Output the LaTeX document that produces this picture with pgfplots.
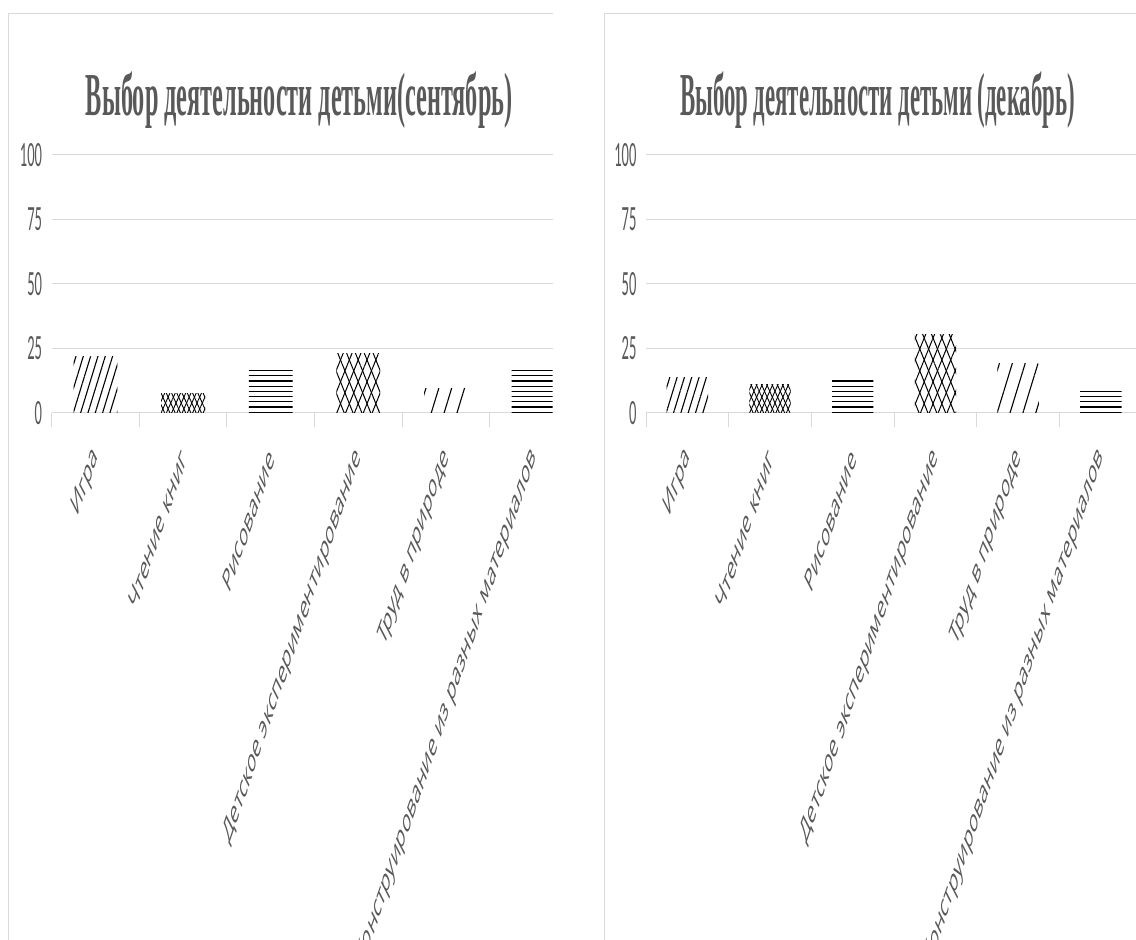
\documentclass[border=0pt]{standalone}
\usepackage{pgfplots}
\pgfplotsset{compat=1.18}
\usetikzlibrary{patterns,patterns.meta}
\usepackage{fontspec}
\setmainfont{Liberation Serif}
\newfontfamily\titlefont{Liberation Serif}
\newfontfamily\tickfont[FakeStretch=0.41]{Carlito}
\newfontfamily\labelfont{Open Sans}
\definecolor{txt}{HTML}{595959}
\definecolor{gridc}{HTML}{D9D9D9}

% horizontal hatching with a wide tile, so the lines stay unbroken
\pgfdeclarepatternformonly{hlines}{\pgfqpoint{-1pt}{-1pt}}{\pgfqpoint{201pt}{6.2pt}}{\pgfqpoint{200pt}{5.2pt}}{
  \pgfsetlinewidth{1.1pt}
  \pgfpathmoveto{\pgfqpoint{-1pt}{2.6pt}}
  \pgfpathlineto{\pgfqpoint{201pt}{2.6pt}}
  \pgfusepath{stroke}
}

\tikzset{
  pStripe/.style={pattern={Lines[angle=73,distance=7pt,line width=1.1pt]},pattern color=black},
  pSparse/.style={pattern={Lines[angle=73,distance=12.3pt,line width=1.1pt]},pattern color=black},
  pHoriz/.style={pattern=hlines,pattern color=black},
  pDiaA/.style={pattern={Lines[angle=66,distance=4.8pt,line width=0.9pt]},pattern color=black},
  pDiaB/.style={pattern={Lines[angle=-66,distance=4.8pt,line width=0.9pt]},pattern color=black},
  pBigA/.style={pattern={Lines[angle=68,distance=8.2pt,line width=1pt]},pattern color=black},
  pBigB/.style={pattern={Lines[angle=-68,distance=8.2pt,line width=1pt]},pattern color=black},
}

\pgfplotsset{
  panel/.style={
    scale only axis, anchor=south west,
    height=257.7pt,
    ymin=0, ymax=100, xmin=-0.5,
    ytick={0,25,50,75,100},
    yticklabels={0,25,50,75,100},
    ymajorgrids,
    grid style={draw=gridc, line width=1pt},
    axis line style={draw=none},
    xtick={0,1,2,3,4,5},
    xticklabels={Игра, Чтение книг, Рисование, Детское экспериментирование, Труд в природе, Конструирование из разных материалов},
    minor xtick={-0.5,0.5,1.5,2.5,3.5,4.5,5.5},
    xtick pos=bottom, ytick pos=left,
    tick align=outside,
    major tick length=0pt,
    minor tick length=14.7pt,
    minor tick style={draw=gridc, line width=1pt},
    major tick style={draw=none},
    yticklabel style={font=\tickfont\fontsize{35.5}{35.5}\selectfont, text=txt, anchor=east, inner sep=0pt, xshift=-9.4pt},
    xticklabel style={font=\labelfont\fontsize{32.8}{32.8}\selectfont, text=txt, anchor=east, inner sep=0pt, xshift=0.5pt, xscale=0.42, rotate=50.9},
    xticklabel shift=40pt,
    /pgf/number format/assume math mode=true,
  },
  onebar/.style={ybar, bar width=0.5, bar shift=0pt, draw=none},
}

\begin{document}
\begin{tikzpicture}
\path[use as bounding box] (0,0) rectangle (1136pt,940pt);

% chart area frames
\draw[gridc, line width=1pt] (8.3pt,0) -- (8.3pt,926.7pt) -- (553pt,926.7pt);
\draw[gridc, line width=1pt] (604.7pt,0) -- (604.7pt,926.7pt) -- (1136pt,926.7pt);

% titles
\node[anchor=base, text=txt, inner sep=0pt] at (299.2pt,824.5pt)
  {\resizebox{426.5pt}{\height}{\titlefont\bfseries\fontsize{61}{61}\selectfont Выбор деятельности детьми(сентябрь)}};
\node[anchor=base, text=txt, inner sep=0pt] at (877.5pt,824.5pt)
  {\resizebox{395pt}{\height}{\titlefont\bfseries\fontsize{61}{61}\selectfont Выбор деятельности детьми (декабрь)}};

% September
\begin{axis}[panel, at={(51.7pt,527.3pt)}, width=501pt, xmax=5.219]
  \addplot[onebar, pStripe] coordinates {(0,21.8)};
  \addplot[onebar, pDiaA]   coordinates {(1,7.5)};
  \addplot[onebar, pDiaB]   coordinates {(1,7.5)};
  \addplot[onebar, pHoriz]  coordinates {(2,17.6)};
  \addplot[onebar, pBigA]   coordinates {(3,23)};
  \addplot[onebar, pBigB]   coordinates {(3,23)};
  \addplot[onebar, pSparse] coordinates {(4,9.4)};
  \addplot[onebar, pHoriz]  coordinates {(5,17.6)};
\end{axis}

% December
\begin{axis}[panel, at={(646pt,527.3pt)}, width=496.2pt, xmax=5.5]
  \addplot[onebar, pStripe] coordinates {(0,13.8)};
  \addplot[onebar, pDiaA]   coordinates {(1,11)};
  \addplot[onebar, pDiaB]   coordinates {(1,11)};
  \addplot[onebar, pHoriz]  coordinates {(2,13.8)};
  \addplot[onebar, pBigA]   coordinates {(3,30.5)};
  \addplot[onebar, pBigB]   coordinates {(3,30.5)};
  \addplot[onebar, pSparse] coordinates {(4,18.9)};
  \addplot[onebar, pHoriz]  coordinates {(5,9.1)};
\end{axis}
\end{tikzpicture}
\end{document}
